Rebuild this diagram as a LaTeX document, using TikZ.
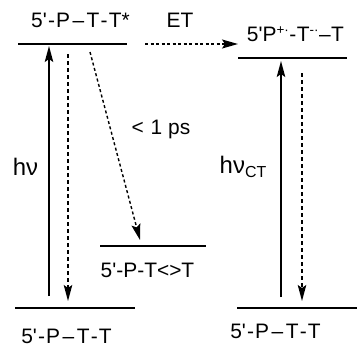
\documentclass[tikz,border=0pt]{standalone}
\usepackage{fontspec}
\setmainfont{Liberation Sans}
\usetikzlibrary{arrows.meta}
\newcommand{\smallsup}[1]{\raisebox{0.6ex}{\fontsize{13.5}{13.5}\selectfont #1}}
\newcommand{\dsh}{\kern2.5pt–\kern2.5pt}
\newcommand{\hyp}{\kern1.2pt-\kern1.2pt}
\newcommand{\q}{\textquotesingle}
\begin{document}
\begin{tikzpicture}[x=1bp,y=-1bp,
  lvl/.style={line width=1.9bp},
  lbl/.style={font=\fontsize{21}{25}\selectfont, inner sep=0pt},
  big/.style={font=\fontsize{24}{28}\selectfont, inner sep=0pt},
  up/.style={line width=1.6bp, -{Stealth[length=16bp,width=8.5bp,inset=3bp]}},
  dn/.style={line width=1.4bp, dash pattern=on 4bp off 3bp, -{Stealth[length=16bp,width=8.5bp,inset=3bp]}},
  dt/.style={line width=1.4bp, dash pattern=on 3bp off 2.5bp, -{Stealth[length=16bp,width=9bp,inset=3bp]}}]
\useasboundingbox (0,0) rectangle (358,346);
% levels
\coordinate (tlA) at (18,44);  \coordinate (tlB) at (127,44);
\coordinate (trA) at (238,58); \coordinate (trB) at (347,58);
\coordinate (mA) at (100,246); \coordinate (mB) at (206,246);
\coordinate (blA) at (15,308); \coordinate (blB) at (135,308);
\coordinate (brA) at (237,308); \coordinate (brB) at (357,308);
\draw[lvl] (tlA) -- (tlB);
\draw[lvl] (trA) -- (trB);
\draw[lvl] (mA) -- (mB);
\draw[lvl] (blA) -- (blB);
\draw[lvl] (brA) -- (brB);
% labels
\node[lbl] (t1) at (80.5,20) {5\q\hyp P\dsh T\hyp T*};
\node[lbl] (et) at (180,20) {ET};
\node[lbl] (t2) at (295.5,34) {5\q P\smallsup{+·}\kern0.5pt-\kern0.5pt T\smallsup{-·}\kern0.5pt–\kern0.5pt T};
\node[lbl] (ps) at (161,129) {<\kern1pt\ 1 ps};
\node[big] (hv) at (25.5,167) {hν};
\node[big] (hvct) at (243,167) {hν\raisebox{-0.35ex}{\fontsize{16}{16}\selectfont CT}};
\node[lbl] (t3) at (147.5,270) {5\q-P-T<>T};
\node[lbl] (t4) at (66.5,336) {5\q\hyp P\dsh T\hyp T};
\node[lbl] (t5) at (275.5,331) {5\q\hyp P\dsh T\hyp T};
% arrows
\coordinate (a1s) at (49,296); \coordinate (a1e) at (49,46);
\coordinate (a2s) at (68,54);  \coordinate (a2e) at (68,301);
\coordinate (a3s) at (90,52);  \coordinate (a3e) at (140,240);
\coordinate (a4s) at (145,44); \coordinate (a4e) at (238,44);
\coordinate (a5s) at (281,297); \coordinate (a5e) at (281,61);
\coordinate (a6s) at (302,73);  \coordinate (a6e) at (302,301);
\draw[up] (a1s) -- (a1e);
\draw[dn] (a2s) -- (a2e);
\draw[dt] (a3s) -- (a3e);
\draw[dt] (a4s) -- (a4e);
\draw[up] (a5s) -- (a5e);
\draw[dn] (a6s) -- (a6e);
\end{tikzpicture}
\end{document}
